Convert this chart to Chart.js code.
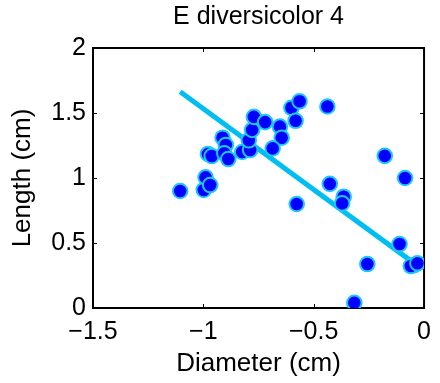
<!DOCTYPE html>
<html>
<head>
<meta charset="utf-8">
<title>E diversicolor 4</title>
<script src="https://cdn.jsdelivr.net/npm/chart.js@4"></script>
<style>
  html, body { margin: 0; padding: 0; background: #fff; }
  canvas { display: block; }
</style>
</head>
<body>
<canvas id="chart" width="440" height="383"></canvas>
<script>
// measured worms: diameter vs length
const diameter = [
  -1.105, -0.998, -0.990, -0.969, -0.979, -0.962, -0.913, -0.898, -0.905, -0.887,
  -0.824, -0.788, -0.794, -0.779, -0.771, -0.720, -0.653, -0.645, -0.686, -0.601,
  -0.564, -0.582, -0.438, -0.427, -0.178, -0.086, -0.364, -0.371, -0.111, -0.257,
  -0.316, -0.045, -0.060, -0.030, -0.577
];
const length = [
  0.900, 0.908, 1.005, 0.946, 1.185, 1.169, 1.310, 1.254, 1.190, 1.146,
  1.200, 1.215, 1.290, 1.370, 1.470, 1.430, 1.395, 1.310, 1.228, 1.540,
  1.590, 1.440, 1.550, 0.955, 1.170, 1.000, 0.856, 0.805, 0.492, 0.338,
  0.040, 0.330, 0.323, 0.344, 0.800
];

// least squares line, from smallest to largest diameter
const fitX = [-1.105, -0.030];
const fitY = [1.664, 0.326];

const xTicks = [-1.5, -1, -0.5, 0];
const yTicks = [0, 0.5, 1, 1.5, 2];

const FONT = "'Liberation Sans', Arial, Helvetica, sans-serif";
Chart.defaults.color = '#000';
Chart.defaults.font.family = FONT;

const minus = v => String(v).replace('-', '\u2212');

// box round the axes with inward ticks on all four sides
const axesBox = {
  id: 'axesBox',
  beforeDatasetsDraw(chart) {
    const { ctx, chartArea: a, scales } = chart;
    const len = 4;
    ctx.save();
    ctx.strokeStyle = '#000';
    ctx.lineWidth = 1;
    ctx.beginPath();
    xTicks.forEach(v => {
      const px = Math.round(scales.x.getPixelForValue(v)) + 0.5;
      ctx.moveTo(px, a.bottom); ctx.lineTo(px, a.bottom - len);
      ctx.moveTo(px, a.top); ctx.lineTo(px, a.top + len);
    });
    yTicks.forEach(v => {
      const py = Math.round(scales.y.getPixelForValue(v)) + 0.5;
      ctx.moveTo(a.left, py); ctx.lineTo(a.left + len, py);
      ctx.moveTo(a.right, py); ctx.lineTo(a.right - len, py);
    });
    ctx.stroke();
    ctx.lineWidth = 2;
    ctx.strokeRect(a.left, a.top, a.right - a.left, a.bottom - a.top);
    ctx.restore();
  }
};

new Chart(document.getElementById('chart'), {
  type: 'scatter',
  data: {
    datasets: [
      {
        data: diameter.map((d, i) => ({ x: d, y: length[i] })),
        backgroundColor: '#0000ff',
        borderColor: '#1ec8ff',
        borderWidth: 2,
        pointRadius: 7.3,
        order: 1
      },
      {
        type: 'line',
        data: fitX.map((d, i) => ({ x: d, y: fitY[i] })),
        borderColor: '#00bff0',
        borderWidth: 5,
        pointRadius: 0,
        fill: false,
        order: 2
      }
    ]
  },
  plugins: [axesBox],
  options: {
    responsive: false,
    animation: false,
    layout: { padding: { top: 0, right: 10, bottom: 0, left: 0 } },
    plugins: {
      legend: { display: false },
      tooltip: { enabled: false },
      title: {
        display: true,
        fullSize: false,
        text: 'E diversicolor 4',
        font: { size: 25, weight: 'normal' },
        padding: { top: 2, bottom: 16 }
      }
    },
    scales: {
      x: {
        type: 'linear',
        min: -1.5,
        max: 0,
        grid: { display: false, drawTicks: false, tickLength: 0 },
        border: { display: false },
        afterBuildTicks: s => { s.ticks = xTicks.map(v => ({ value: v })); },
        afterFit: s => { s.height = 75; },
        ticks: { font: { size: 25 }, padding: 9, maxRotation: 0, callback: v => minus(v) },
        title: { display: true, text: 'Diameter (cm)', font: { size: 26 }, padding: { top: 0, bottom: 3.4 } }
      },
      y: {
        type: 'linear',
        min: 0,
        max: 2,
        grid: { display: false, drawTicks: false, tickLength: 0 },
        border: { display: false },
        afterBuildTicks: s => { s.ticks = yTicks.map(v => ({ value: v })); },
        afterFit: s => { s.width = 93; },
        ticks: { font: { size: 25 }, padding: 7, callback: v => minus(v) },
        title: { display: true, text: 'Length (cm)', font: { size: 26 }, padding: { top: 7.4, bottom: 0 } }
      }
    }
  }
});
</script>
</body>
</html>
